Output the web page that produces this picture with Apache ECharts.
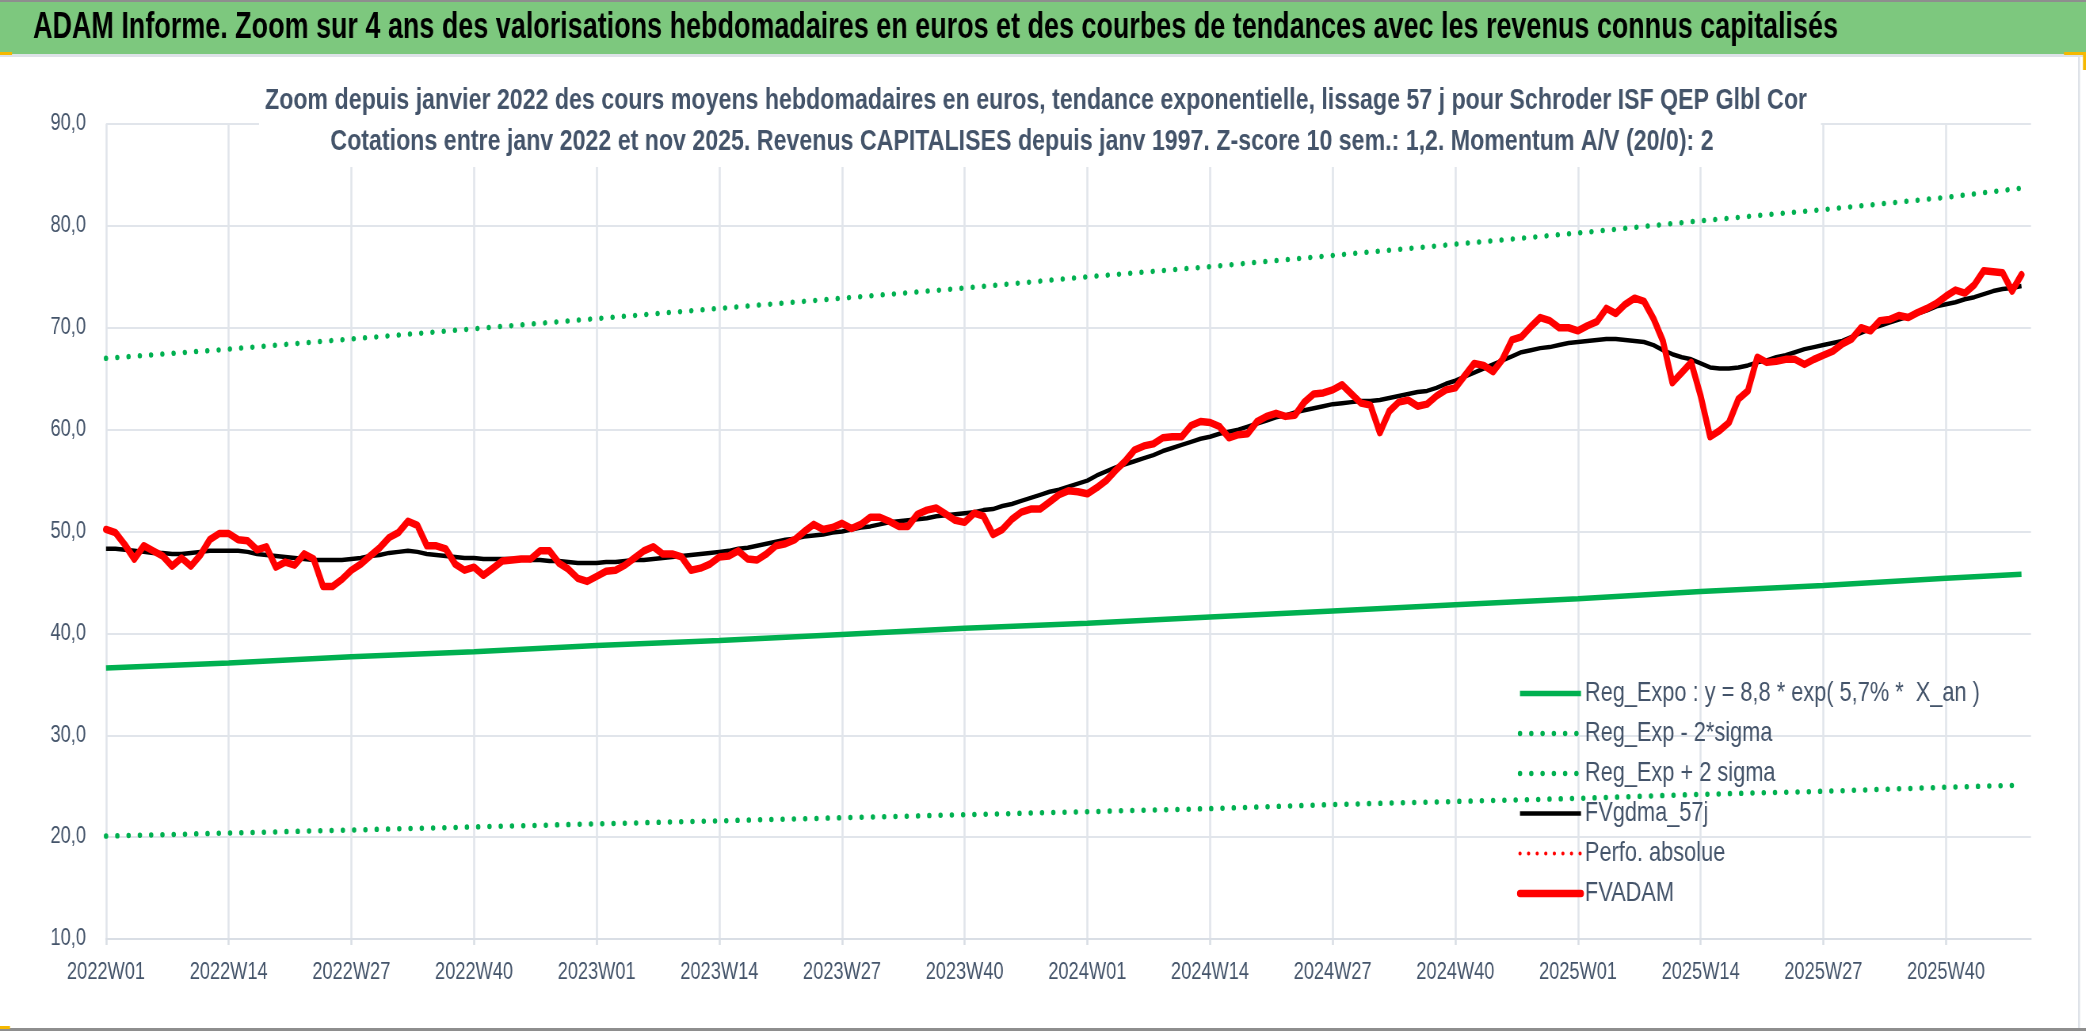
<!DOCTYPE html>
<html>
<head>
<meta charset="utf-8">
<title>ADAM Informe</title>
<script src="https://cdn.jsdelivr.net/npm/echarts@6/dist/echarts.min.js"></script>
<style>
	html, body { margin: 0; padding: 0; background: #fff; overflow: hidden; width: 2086px; height: 1031px; }
	#chart { height: 1031px; transform-origin: 0 0; }
</style>
</head>
<body>
<div id="chart"></div>
<script>
var FONT = "'Liberation Sans', Arial, sans-serif";
var TXT = '#44546A';
var W = 2086, H = 1031;

/*semaines ISO : 2022W01 -> 2025W49*/
var years = [2022, 2023, 2024, 2025];
var weeksPerYear = 52;
var nbWeeks = 205;

//cours moyens hebdomadaires FVADAM
var fvadam = [
	50.2,49.9,48.7,47.3,48.6,48.1,47.6,46.6,47.4,46.6,47.7,49.2,49.8,49.8,49.2,49.1,48.2,48.5,46.5,47.0,
	46.7,47.8,47.3,44.6,44.6,45.3,46.2,46.8,47.6,48.4,49.4,49.9,51.0,50.6,48.6,48.6,48.3,46.8,46.2,46.5,
	45.7,46.4,47.1,47.2,47.3,47.3,48.1,48.1,46.9,46.3,45.4,45.1,45.6,46.1,46.2,46.7,47.4,48.1,48.5,47.8,
	47.8,47.5,46.2,46.4,46.8,47.5,47.6,48.1,47.3,47.2,47.8,48.6,48.8,49.2,50.0,50.7,50.2,50.4,50.8,50.3,
	50.7,51.4,51.4,51.0,50.5,50.5,51.7,52.1,52.3,51.7,51.1,50.9,51.8,51.5,49.7,50.2,51.2,51.9,52.2,52.2,
	52.9,53.6,54.0,53.9,53.7,54.3,55.0,56.0,56.9,58.0,58.4,58.6,59.2,59.3,59.3,60.4,60.8,60.7,60.3,59.2,
	59.5,59.6,60.8,61.3,61.6,61.3,61.4,62.7,63.5,63.6,63.9,64.4,63.5,62.6,62.4,59.7,61.8,62.7,62.9,62.3,
	62.5,63.3,63.9,64.1,65.3,66.5,66.3,65.7,66.9,68.8,69.1,70.1,71.0,70.7,70.0,70.0,69.7,70.2,70.6,71.9,
	71.4,72.3,72.9,72.6,70.9,68.7,64.6,65.6,66.6,63.3,59.3,59.9,60.7,63.0,63.8,67.1,66.6,66.7,66.9,66.9,
	66.4,66.9,67.3,67.7,68.4,68.9,70.0,69.7,70.7,70.8,71.2,71.0,71.5,71.9,72.4,73.1,73.7,73.4,74.2,75.6,
	75.5,75.4,73.6,75.2
];

//moyenne mobile 57 j
var fvgdma = [
	48.3,48.3,48.2,48.1,48.0,47.9,47.9,47.8,47.8,47.9,48.0,48.1,48.1,48.1,48.1,48.0,47.8,47.7,47.6,47.5,
	47.4,47.3,47.2,47.2,47.2,47.2,47.3,47.4,47.6,47.7,47.9,48.0,48.1,48.0,47.8,47.7,47.6,47.5,47.4,47.4,
	47.3,47.3,47.3,47.3,47.3,47.2,47.2,47.1,47.1,47.0,46.9,46.9,46.9,47.0,47.0,47.1,47.2,47.2,47.3,47.4,
	47.5,47.6,47.7,47.8,47.9,48.0,48.1,48.3,48.4,48.6,48.8,49.0,49.2,49.3,49.5,49.6,49.7,49.9,50.0,50.2,
	50.4,50.5,50.7,50.9,51.0,51.1,51.2,51.3,51.5,51.6,51.7,51.8,51.9,52.1,52.2,52.5,52.7,53.0,53.3,53.6,
	53.9,54.1,54.4,54.7,55.0,55.5,55.9,56.3,56.6,56.9,57.2,57.5,57.9,58.2,58.5,58.8,59.1,59.3,59.6,59.8,
	60.0,60.3,60.6,60.9,61.2,61.4,61.7,61.9,62.1,62.3,62.5,62.6,62.7,62.8,62.8,62.9,63.1,63.3,63.5,63.7,
	63.8,64.1,64.5,64.8,65.2,65.6,66.0,66.4,66.8,67.2,67.6,67.8,68.0,68.1,68.3,68.5,68.6,68.7,68.8,68.9,
	68.9,68.8,68.7,68.6,68.3,67.8,67.4,67.1,66.9,66.5,66.1,66.0,66.0,66.1,66.3,66.6,66.8,67.1,67.3,67.6,
	67.9,68.1,68.3,68.5,68.7,69.1,69.5,69.9,70.2,70.5,70.8,71.1,71.4,71.7,72.1,72.3,72.5,72.8,73.0,73.3,
	73.6,73.8,73.9,74.1
];

//courbes de tendance, valeurs lues aux graduations
var trendIdx  = [0, 13, 26, 39, 52, 65, 78, 91, 104, 117, 130, 143, 156, 169, 182, 195, 203];
var regExpo   = [36.6,37.1,37.7,38.2,38.8,39.3,39.9,40.5,41.0,41.6,42.2,42.8,43.4,44.1,44.7,45.4,45.8];
var regLow    = [20.1,20.4,20.7,21.0,21.3,21.6,21.9,22.2,22.5,22.8,23.2,23.5,23.8,24.2,24.5,24.9,25.1];
var regHigh   = [67.0,67.9,68.9,69.9,70.9,71.9,72.9,73.9,75.0,76.0,77.1,78.2,79.3,80.5,81.6,82.8,83.7];

var yTicks = { min: 10, max: 90, step: 10 };

var legendNames = ['Reg_Expo : y = 8,8 * exp( 5,7% *  X_an )', 'Reg_Exp - 2*sigma', 'Reg_Exp + 2 sigma', 'FVgdma_57j', 'Perfo. absolue', 'FVADAM'];
var mainTitle = 'ADAM Informe. Zoom sur 4 ans des valorisations hebdomadaires en euros et des courbes de tendances avec les revenus connus capitalisés';
var subTitle1 = 'Zoom depuis janvier 2022 des cours moyens hebdomadaires en euros, tendance exponentielle, lissage 57 j pour Schroder ISF QEP Glbl Cor';
var subTitle2 = 'Cotations entre janv 2022 et nov 2025. Revenus CAPITALISES depuis janv 1997. Z-score 10 sem.: 1,2. Momentum A/V (20/0): 2';

function weekLabels(){
	var out = [];
	for (var i = 0; i < years.length; i++) {
		for (var w = 1; w <= weeksPerYear; w++) {
			if (out.length < nbWeeks) out.push(years[i] + 'W' + (w < 10 ? '0' + w : w));
		}
	}
	return out;
}

function sparse(vals){
	var arr = [];
	for (var i = 0; i < nbWeeks; i++) arr.push(null);
	for (var k = 0; k < trendIdx.length; k++) arr[trendIdx[k]] = vals[k];
	return arr;
}

//mesure du texte -> la figure d'origine est compressee horizontalement
var ctx = document.createElement('canvas').getContext('2d');
function textW(t, f){ ctx.font = f; return ctx.measureText(t).width; }

var AXIS_FS = 23;
var SX = 78 / textW('2022W01', AXIS_FS + 'px ' + FONT);
function X(a){ return a / SX; }

var legendSize = 25 * 395 / (textW(legendNames[0], '25px ' + FONT) * SX);
var titleScale = 1805 / (textW(mainTitle, 'bold 36px ' + FONT) * SX);
var subScale = 1542 / (textW(subTitle1, 'bold 29px ' + FONT) * SX);

var el = document.getElementById('chart');
el.style.width = X(W) + 'px';
el.style.transform = 'scaleX(' + SX + ')';

var dotted = [0.1, X(11.2)];

var myChart = echarts.init(el, null, {renderer: 'canvas'});

var option = {
	animation: false,
	backgroundColor: '#ffffff',
	textStyle: { fontFamily: FONT },
	graphic: [
		{ type: 'rect', shape: {x: 0, y: 0, width: X(W), height: 54}, style: {fill: '#7DC87E'}, z: 1 },
		{ type: 'rect', shape: {x: 0, y: 0, width: X(W), height: 2}, style: {fill: '#8E8E8E'}, z: 1 },
		{ type: 'rect', shape: {x: 0, y: 54, width: X(W), height: 3}, style: {fill: '#DEE2E8'}, z: 1 },
		{ type: 'rect', shape: {x: X(2078), y: 57, width: X(2), height: 972}, style: {fill: '#DEE2E8'}, z: 1 },
		{ type: 'rect', shape: {x: 0, y: 1028, width: X(W), height: 3}, style: {fill: '#8E8E8E'}, z: 1 },
		{ type: 'rect', shape: {x: X(2064), y: 52, width: X(22), height: 3}, style: {fill: '#F5B800'}, z: 2 },
		{ type: 'rect', shape: {x: X(2083), y: 52, width: X(3), height: 18}, style: {fill: '#F5B800'}, z: 2 },
		{ type: 'rect', shape: {x: 0, y: 52, width: X(12), height: 3}, style: {fill: '#F5B800'}, z: 2 },
		{ type: 'rect', shape: {x: 0, y: 1026, width: X(10), height: 3}, style: {fill: '#F5B800'}, z: 2 },
		//cadre blanc du titre du graphique (masque le haut de la grille)
		{ type: 'rect', shape: {x: X(259), y: 57, width: X(1821 - 259), height: 110}, style: {fill: '#ffffff'}, z: 1 },
		{
			type: 'text', x: X(33), y: 28, scaleX: titleScale, z: 3,
			style: {
				text: mainTitle,
				fill: '#000', font: 'bold 36px ' + FONT, textAlign: 'left', textVerticalAlign: 'middle'
			}
		},
		{
			type: 'text', x: X(1036), y: 101, scaleX: subScale, z: 3,
			style: {
				text: subTitle1,
				fill: TXT, font: 'bold 29px ' + FONT, textAlign: 'center', textVerticalAlign: 'middle'
			}
		},
		{
			type: 'text', x: X(1022), y: 142, scaleX: subScale, z: 3,
			style: {
				text: subTitle2,
				fill: TXT, font: 'bold 29px ' + FONT, textAlign: 'center', textVerticalAlign: 'middle'
			}
		}
	],
	grid: { left: X(106), right: X(55), top: 124, bottom: 92, containLabel: false },
	legend: {
		orient: 'vertical',
		left: X(1517),
		top: 680,
		padding: 0,
		itemWidth: X(61),
		itemHeight: 14,
		itemGap: 40 - Math.round(legendSize),
		textStyle: { fontSize: legendSize, color: TXT, fontFamily: FONT },
		itemStyle: { opacity: 0 },
		lineStyle: { width: 'inherit' },
		data: legendNames
	},
	xAxis: {
		type: 'category',
		boundaryGap: false,
		data: weekLabels(),
		axisLine: { show: true, lineStyle: { color: '#D9DEE5', width: 2 } },
		axisTick: { show: true, interval: 12, length: 6, lineStyle: { color: '#D9DEE5', width: X(2) } },
		axisLabel: { interval: 12, margin: 22, fontSize: AXIS_FS, color: TXT, fontFamily: FONT },
		splitLine: { show: true, interval: 12, lineStyle: { color: '#E1E5EB', width: X(2) } }
	},
	yAxis: {
		type: 'value',
		min: yTicks.min,
		max: yTicks.max,
		interval: yTicks.step,
		axisLine: { show: false },
		axisTick: { show: false },
		axisLabel: {
			margin: X(20), fontSize: AXIS_FS, color: TXT, fontFamily: FONT,
			formatter: function(v){ return v.toFixed(1).replace('.', ','); }
		},
		splitLine: { show: true, lineStyle: { color: '#E1E5EB', width: 2 } }
	},
	series: [
		{
			name: legendNames[0],
			type: 'line', symbol: 'none', connectNulls: true,
			data: sparse(regExpo),
			lineStyle: { color: '#00B050', width: 5.5 }
		},
		{
			name: legendNames[1],
			type: 'line', symbol: 'none', connectNulls: true,
			data: sparse(regLow),
			lineStyle: { color: '#00B050', width: 5.5, type: dotted, cap: 'round' }
		},
		{
			name: legendNames[2],
			type: 'line', symbol: 'none', connectNulls: true,
			data: sparse(regHigh),
			lineStyle: { color: '#00B050', width: 5.5, type: dotted, cap: 'round' }
		},
		{
			name: legendNames[3],
			type: 'line', symbol: 'none',
			data: fvgdma,
			lineStyle: { color: '#000000', width: 4.5, join: 'round' }
		},
		{
			name: legendNames[4],
			type: 'line', symbol: 'none',
			data: [],
			lineStyle: { color: '#FF0000', width: 4, type: [0.1, X(8.5)], cap: 'round' }
		},
		{
			name: legendNames[5],
			type: 'line', symbol: 'none',
			data: fvadam,
			lineStyle: { color: '#FF0000', width: 7.5, join: 'round', cap: 'round' }
		}
	]
};
myChart.setOption(option);
</script>
</body>
</html>
